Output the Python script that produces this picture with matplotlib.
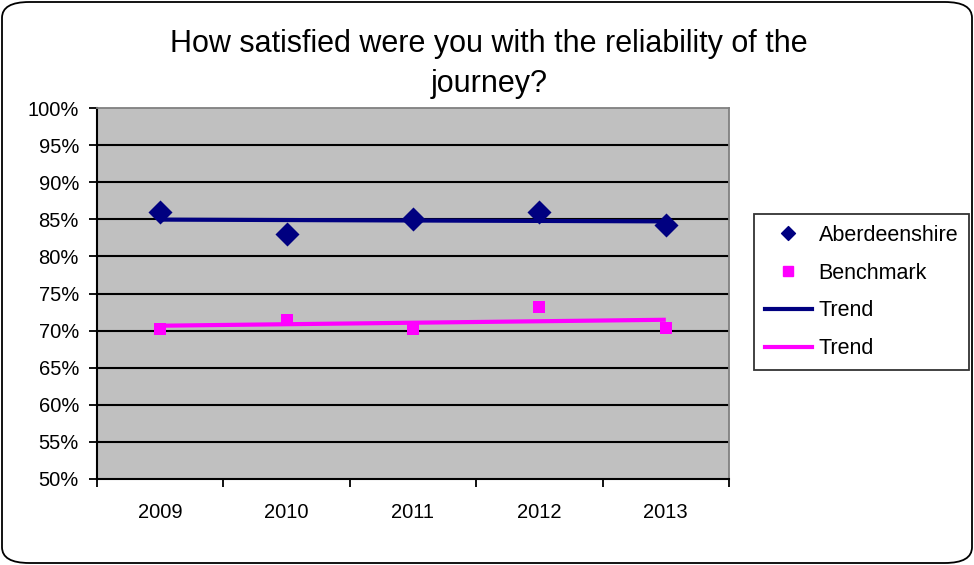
import matplotlib
matplotlib.use("Agg")
import matplotlib.pyplot as plt
import numpy as np
from matplotlib.patches import FancyBboxPatch
from matplotlib.lines import Line2D
from matplotlib.path import Path

plt.rcParams['font.family'] = ['Liberation Sans', 'DejaVu Sans']

years = ['2009', '2010', '2011', '2012', '2013']
aberdeenshire = [86.0, 83.0, 85.0, 86.0, 84.2]
benchmark = [70.2, 71.4, 70.2, 73.2, 70.3]
y_ticks = [50, 55, 60, 65, 70, 75, 80, 85, 90, 95, 100]

navy = '#000080'
magenta = '#FF00FF'
diamond = Path([(0, 1), (1, 0), (0, -1), (-1, 0), (0, 1)],
               [Path.MOVETO, Path.LINETO, Path.LINETO, Path.LINETO, Path.CLOSEPOLY])

fig = plt.figure(figsize=(9.74, 5.65), dpi=100)
fig.patch.set_facecolor('white')

# rounded outer frame of the chart
border = FancyBboxPatch((2 / 974, 2 / 565), 970 / 974, 561 / 565,
                        boxstyle="round,pad=0,rounding_size=0.028",
                        transform=fig.transFigure, facecolor='none',
                        edgecolor='black', linewidth=1.3)
fig.patches.append(border)

ax = fig.add_axes([97 / 974, 1 - 479 / 565, (729 - 97) / 974, (479 - 108) / 565])
ax.set_facecolor('#C0C0C0')

x = np.arange(len(years))


def trend(vals):
    k, b = np.polyfit(x, vals, 1)
    return k * x + b


ax.plot(x, trend(aberdeenshire), color=navy, lw=3, zorder=3, solid_capstyle='butt')
ax.plot(x, trend(benchmark), color=magenta, lw=3, zorder=3, solid_capstyle='butt')
ax.scatter(x, aberdeenshire, marker=diamond, s=300, color=navy, zorder=4, linewidths=0)
ax.scatter(x, benchmark, marker='s', s=78, color=magenta, zorder=4, linewidths=0)

ax.set_xlim(-0.5, len(years) - 0.5)
ax.set_ylim(50, 100)
ax.set_yticks(y_ticks)
ax.set_yticklabels([f'{v}%' for v in y_ticks], fontsize=14.5)
for v in y_ticks[1:-1]:
    ax.axhline(v, color='black', lw=1.5, zorder=1)

ax.set_xticks(np.arange(-0.5, len(years) + 0.5, 1.0))
ax.set_xticklabels([])
ax.set_xticks(x, minor=True)
ax.set_xticklabels(years, minor=True, fontsize=14.5)
ax.tick_params(axis='x', which='minor', length=0, pad=17)
ax.tick_params(axis='x', which='major', length=6, width=1.3, direction='out')
ax.tick_params(axis='y', length=6, width=1.3, direction='out', pad=7)

for side in ['top', 'right']:
    ax.spines[side].set_color('#808080')
    ax.spines[side].set_linewidth(1.3)
for side in ['left', 'bottom']:
    ax.spines[side].set_color('black')
    ax.spines[side].set_linewidth(1.5)

fig.text(489 / 974, 1 - 64 / 565,
         'How satisfied were you with the reliability of the\njourney?',
         ha='center', va='center', fontsize=22, linespacing=1.4)

handles = [
    Line2D([], [], marker=diamond, color=navy, ls='none', markersize=10),
    Line2D([], [], marker='s', color=magenta, ls='none', markersize=7.5),
    Line2D([], [], color=navy, lw=3),
    Line2D([], [], color=magenta, lw=3),
]
labels = ['Aberdeenshire', 'Benchmark', 'Trend', 'Trend']
leg = fig.legend(handles, labels, loc='center', bbox_to_anchor=(861.5 / 974, 1 - 292 / 565),
                 fontsize=15.5, frameon=True, fancybox=False, edgecolor='black',
                 handlelength=2.2, handletextpad=0.3, labelspacing=0.78,
                 borderpad=0.5)
leg.get_frame().set_linewidth(1.3)

fig.savefig('out.png', dpi=100, facecolor='white')
